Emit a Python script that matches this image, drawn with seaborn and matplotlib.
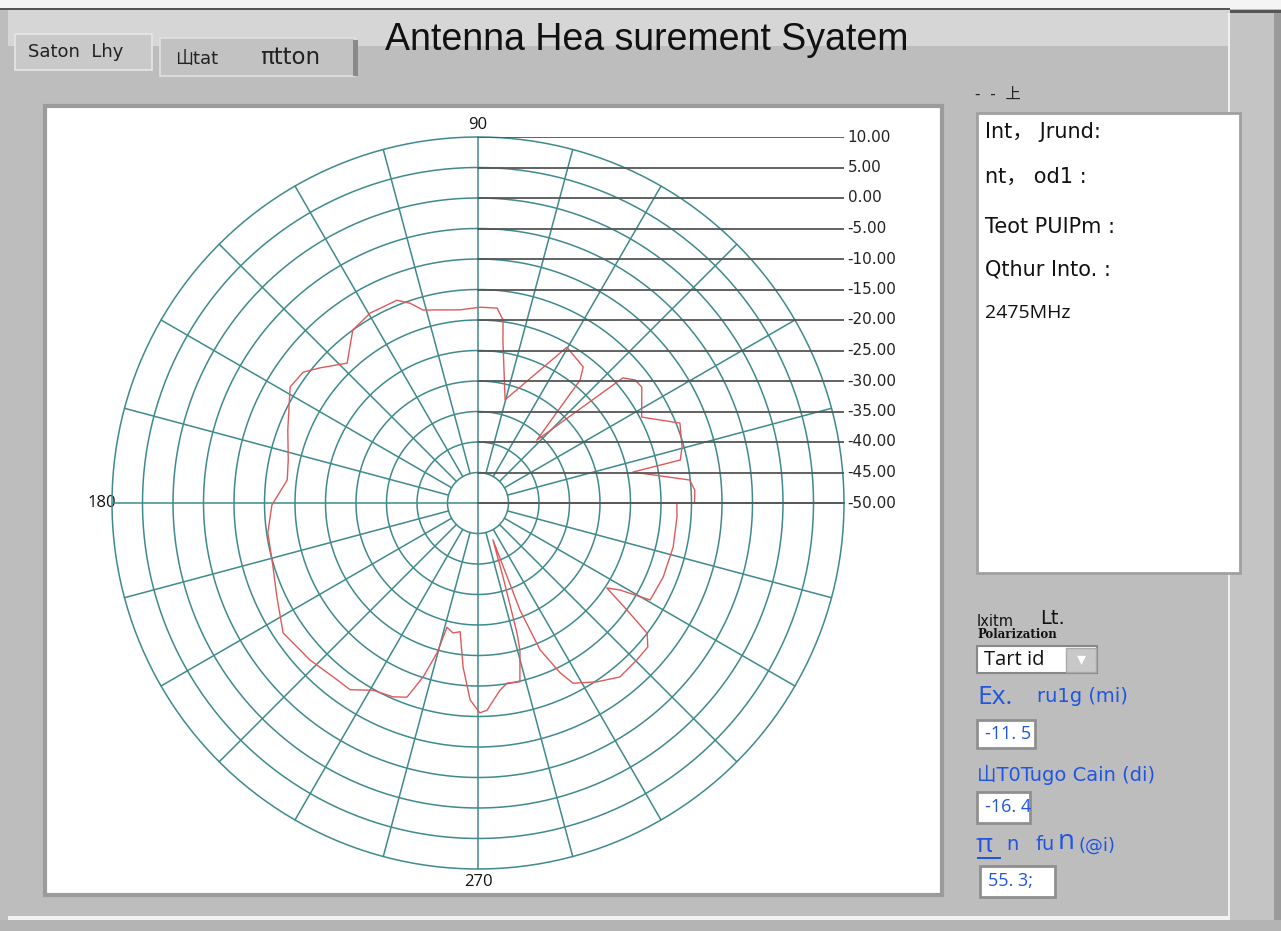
import numpy as np
import pandas as pd
import matplotlib
matplotlib.use("Agg")
import matplotlib.pyplot as plt
import seaborn as sns
from matplotlib.patches import Rectangle

# --- data ---
angle_deg = [0, 0, 3.4, 6.2, 11.3, 12.0, 15.4, 21.6, 27.7, 35.3, 38.1, 40.8, 46.9,
             50.3, 52.3, 60.3, 75.3, 81.3, 82.2, 84.4, 89.4, 95.3, 105.9, 108.8,
             111.8, 119.6, 125.9, 129.0, 133.1, 139.5, 143.2, 148.3, 159.0, 167.2,
             173.1, 180.6, 188.1, 197.3, 205.1, 213.7, 223.1, 230.2, 235.6, 240.7,
             246.3, 249.9, 252.5, 254.7, 256.0, 259.1, 262.1, 264.8, 267.7, 270.5,
             272.5, 276.7, 279.2, 283.2, 285.9, 286.7, 288.7, 292.1, 291.4, 292.9,
             295.8, 297.8, 303.6, 309.2, 315.4, 319.7, 322.4, 324.3, 326.6, 328.5,
             330.6, 338.2, 347.3, 356.0, 360]
gain_db = [-50, -14.5, -14.4, -15.1, -24.1, -16.1, -15.3, -14.4, -19.7, -17.1, -17.3,
           -18.6, -35.9, -23.8, -21.8, -20.6, -32.5, -23.0, -19.7, -17.9, -17.9, -18.2,
           -17.1, -15.4, -14.2, -14.2, -15.0, -16.7, -18.6, -15.9, -14.2, -13.8, -16.6,
           -18.1, -18.5, -16.2, -15.2, -14.8, -13.6, -11.6, -12.3, -12.9, -12.9, -14.8,
           -15.3, -16.1, -20.1, -24.5, -29.0, -28.3, -28.7, -23.0, -17.7, -15.6, -16.0,
           -19.1, -20.1, -19.9, -24.9, -27.8, -37.2, -43.5, -31.1, -23.9, -19.1, -16.6,
           -14.8, -13.2, -13.4, -13.5, -15.0, -19.9, -24.7, -22.7, -17.6, -17.3, -17.2,
           -17.3, -17.4]

ring_levels = [10, 5, 0, -5, -10, -15, -20, -25, -30, -35, -40, -45, -50]
ring_labels = ["10.00", "5.00", "0.00", "-5.00", "-10.00", "-15.00", "-20.00",
               "-25.00", "-30.00", "-35.00", "-40.00", "-45.00", "-50.00"]

info_lines = ["Int， Jrund:", "nt， od1 :", "Teot PUIPm :", "Qthur Into. :", "2475MHz"]
gain_values = ["-11. 5", "-16. 4", "55. 3;"]

W, H = 1281, 931
TEAL = "#3f8a8c"
BLUE = "#1f55e0"
WIDE = ["DejaVu Sans", "Noto Sans CJK SC"]

sns.set_theme(style="white")
plt.rcParams['font.family'] = ['Open Sans', 'Noto Sans CJK SC', 'DejaVu Sans']

fig = plt.figure(figsize=(W / 100, H / 100), dpi=100)
fig.patch.set_facecolor("#bdbdbd")

# background "window" drawn in pixel coordinates
bg = fig.add_axes([0, 0, 1, 1])
bg.set_xlim(0, W)
bg.set_ylim(H, 0)
bg.axis("off")

def box(x, y, w, h, fc, ec="none", lw=0, z=1):
    bg.add_patch(Rectangle((x, y), w, h, facecolor=fc, edgecolor=ec, linewidth=lw, zorder=z))

box(0, 0, W, 9, "#f4f4f4")
box(0, 8, 1230, 2, "#555555")
box(1230, 10, 51, 3, "#555555")
box(8, 10, 1222, 36, "#d6d6d6")
box(1230, 13, 51, 910, "#c4c4c4")
box(1228, 13, 2, 905, "#f0f0f0")
box(1274, 13, 7, 910, "#9a9a9a")
box(8, 916, 1222, 4, "#f2f2f2")
box(0, 920, W, 11, "#b4b4b4")

# tabs
box(15, 34, 137, 36, "#c9c9c9", "#e6e6e6", 1.2, 2)
box(160, 38, 195, 38, "#c2c2c2", "#e0e0e0", 1.2, 2)
box(353, 40, 5, 36, "#8a8a8a", z=3)
bg.text(28, 52, "Saton  Lhy", fontsize=13, va="center", color="#222222", zorder=4,
        family=WIDE)
bg.text(175, 59, "山tat", fontsize=13, va="center", color="#222222", zorder=4,
        family=WIDE)
bg.text(260, 58, "πtton", fontsize=16.5, va="center", color="#222222", zorder=4,
        family=WIDE)
bg.text(385, 40, "Antenna Hea surement Syatem", fontsize=27, va="center",
        color="#111111", family=["Liberation Sans"], zorder=4)

# plot frame
box(45, 106, 897, 789, "white", "#9b9b9b", 3, 2)

# right info panel
bg.text(975, 94, "-  -  上", fontsize=11, va="center", color="#222222", zorder=4,
        family=WIDE)
box(977, 113, 263, 460, "white", "#a0a0a0", 2, 2)
for i, s in enumerate(info_lines):
    fam = WIDE if i < 4 else ["Open Sans"]
    bg.text(985, [132, 177, 227, 270, 313][i], s, fontsize=15 if i < 4 else 14,
            va="center", color="#111111", zorder=4, family=fam)

# lower right controls
bg.text(977, 621, "Ixitm", fontsize=10.5, va="center", color="#111111", zorder=4,
        family=WIDE)
bg.text(1040, 618, "Lt.", fontsize=14, va="center", color="#111111", zorder=4,
        family=WIDE)
bg.text(977, 634, "Polarization", fontsize=8.5, va="center", color="#111111",
        fontweight="bold", family=["DejaVu Serif"], zorder=4)
box(977, 646, 120, 27, "white", "#888888", 1.5, 2)
box(1066, 648, 30, 24, "#c8c8c8", "#aaaaaa", 1, 3)
bg.text(1081, 659, "▾", fontsize=13, ha="center", va="center", color="white", zorder=4,
        family=["DejaVu Sans"])
bg.text(984, 660, "Tart id", fontsize=14.5, va="center", color="#111111", zorder=4)

bg.text(977, 697, "Ex.", fontsize=19, va="center", color=BLUE, zorder=4)
bg.text(1037, 697, "ru1g (mi)", fontsize=14, va="center", color=BLUE, zorder=4,
        family=WIDE)
bg.text(977, 775, "山T0Tugo Cain (di)", fontsize=14, va="center", color=BLUE, zorder=4,
        family=WIDE)
bg.text(976, 845, "π", fontsize=19, va="center", color=BLUE, zorder=4)
box(977, 857, 24, 2, BLUE, z=4)
bg.text(1006, 845, "n", fontsize=14, va="center", color=BLUE, zorder=4, family=WIDE)
bg.text(1036, 845, "fu", fontsize=14, va="center", color=BLUE, zorder=4, family=WIDE)
bg.text(1058, 842, "n", fontsize=20, va="center", color=BLUE, zorder=4)
bg.text(1078, 846, "(@i)", fontsize=13, va="center", color=BLUE, zorder=4, family=WIDE)
for (x, y, w, h), s in zip([(977, 720, 58, 28), (977, 792, 53, 31), (980, 866, 75, 31)],
                          gain_values):
    box(x, y, w, h, "white", "#8f8f8f", 2, 2)
    bg.text(x + 8, y + h / 2, s, fontsize=13, va="center", color=BLUE, zorder=4)

# polar chart
cx, cy, R = 478, 503, 366
rect = [(cx - R) / W, (H - cy - R) / H, 2 * R / W, 2 * R / H]
ax = fig.add_axes(rect, projection="polar")
ax.set_facecolor("none")
ax.set_ylim(-50, 10)
ax.set_xticks([])
ax.set_yticks([])
ax.grid(False)
ax.spines["polar"].set_visible(False)

full = np.linspace(0, 2 * np.pi, 400)
for lev in ring_levels[:-1]:
    ax.plot(full, np.full_like(full, lev), color=TEAL, lw=1.1, zorder=1, clip_on=False)
for a in range(0, 360, 15):
    start = -50 if a % 90 == 0 else -45
    ax.plot([np.deg2rad(a)] * 2, [start, 10], color=TEAL, lw=1.1, zorder=1, clip_on=False)

df = pd.DataFrame({"theta": np.deg2rad(angle_deg), "gain": gain_db})
sns.lineplot(data=df, x="theta", y="gain", sort=False, estimator=None, ax=ax,
             color="#de5a5a", linewidth=1.0, zorder=3)
ax.set_xlabel("")
ax.set_ylabel("")

# leader lines and ring labels on a cartesian overlay with the same scale
ov = fig.add_axes(rect)
ov.set_xlim(-60, 60)
ov.set_ylim(-60, 60)
ov.axis("off")
for lev, lab in zip(ring_levels, ring_labels):
    ov.plot([0, 60.2], [lev + 50, lev + 50], color="#555555", lw=1.3, zorder=2)
    ov.text(60.6, lev + 50, lab, fontsize=11, va="center", ha="left",
            color="#222222", clip_on=False, family=WIDE)

bg.text(478, 125, "90", fontsize=12, ha="center", va="center", color="#111111", zorder=4)
bg.text(116, 503, "180", fontsize=12, ha="right", va="center", color="#111111", zorder=4)
bg.text(478, 882, "270", fontsize=12, ha="center", va="center", color="#111111", zorder=4)

fig.savefig("out.png", dpi=100)
